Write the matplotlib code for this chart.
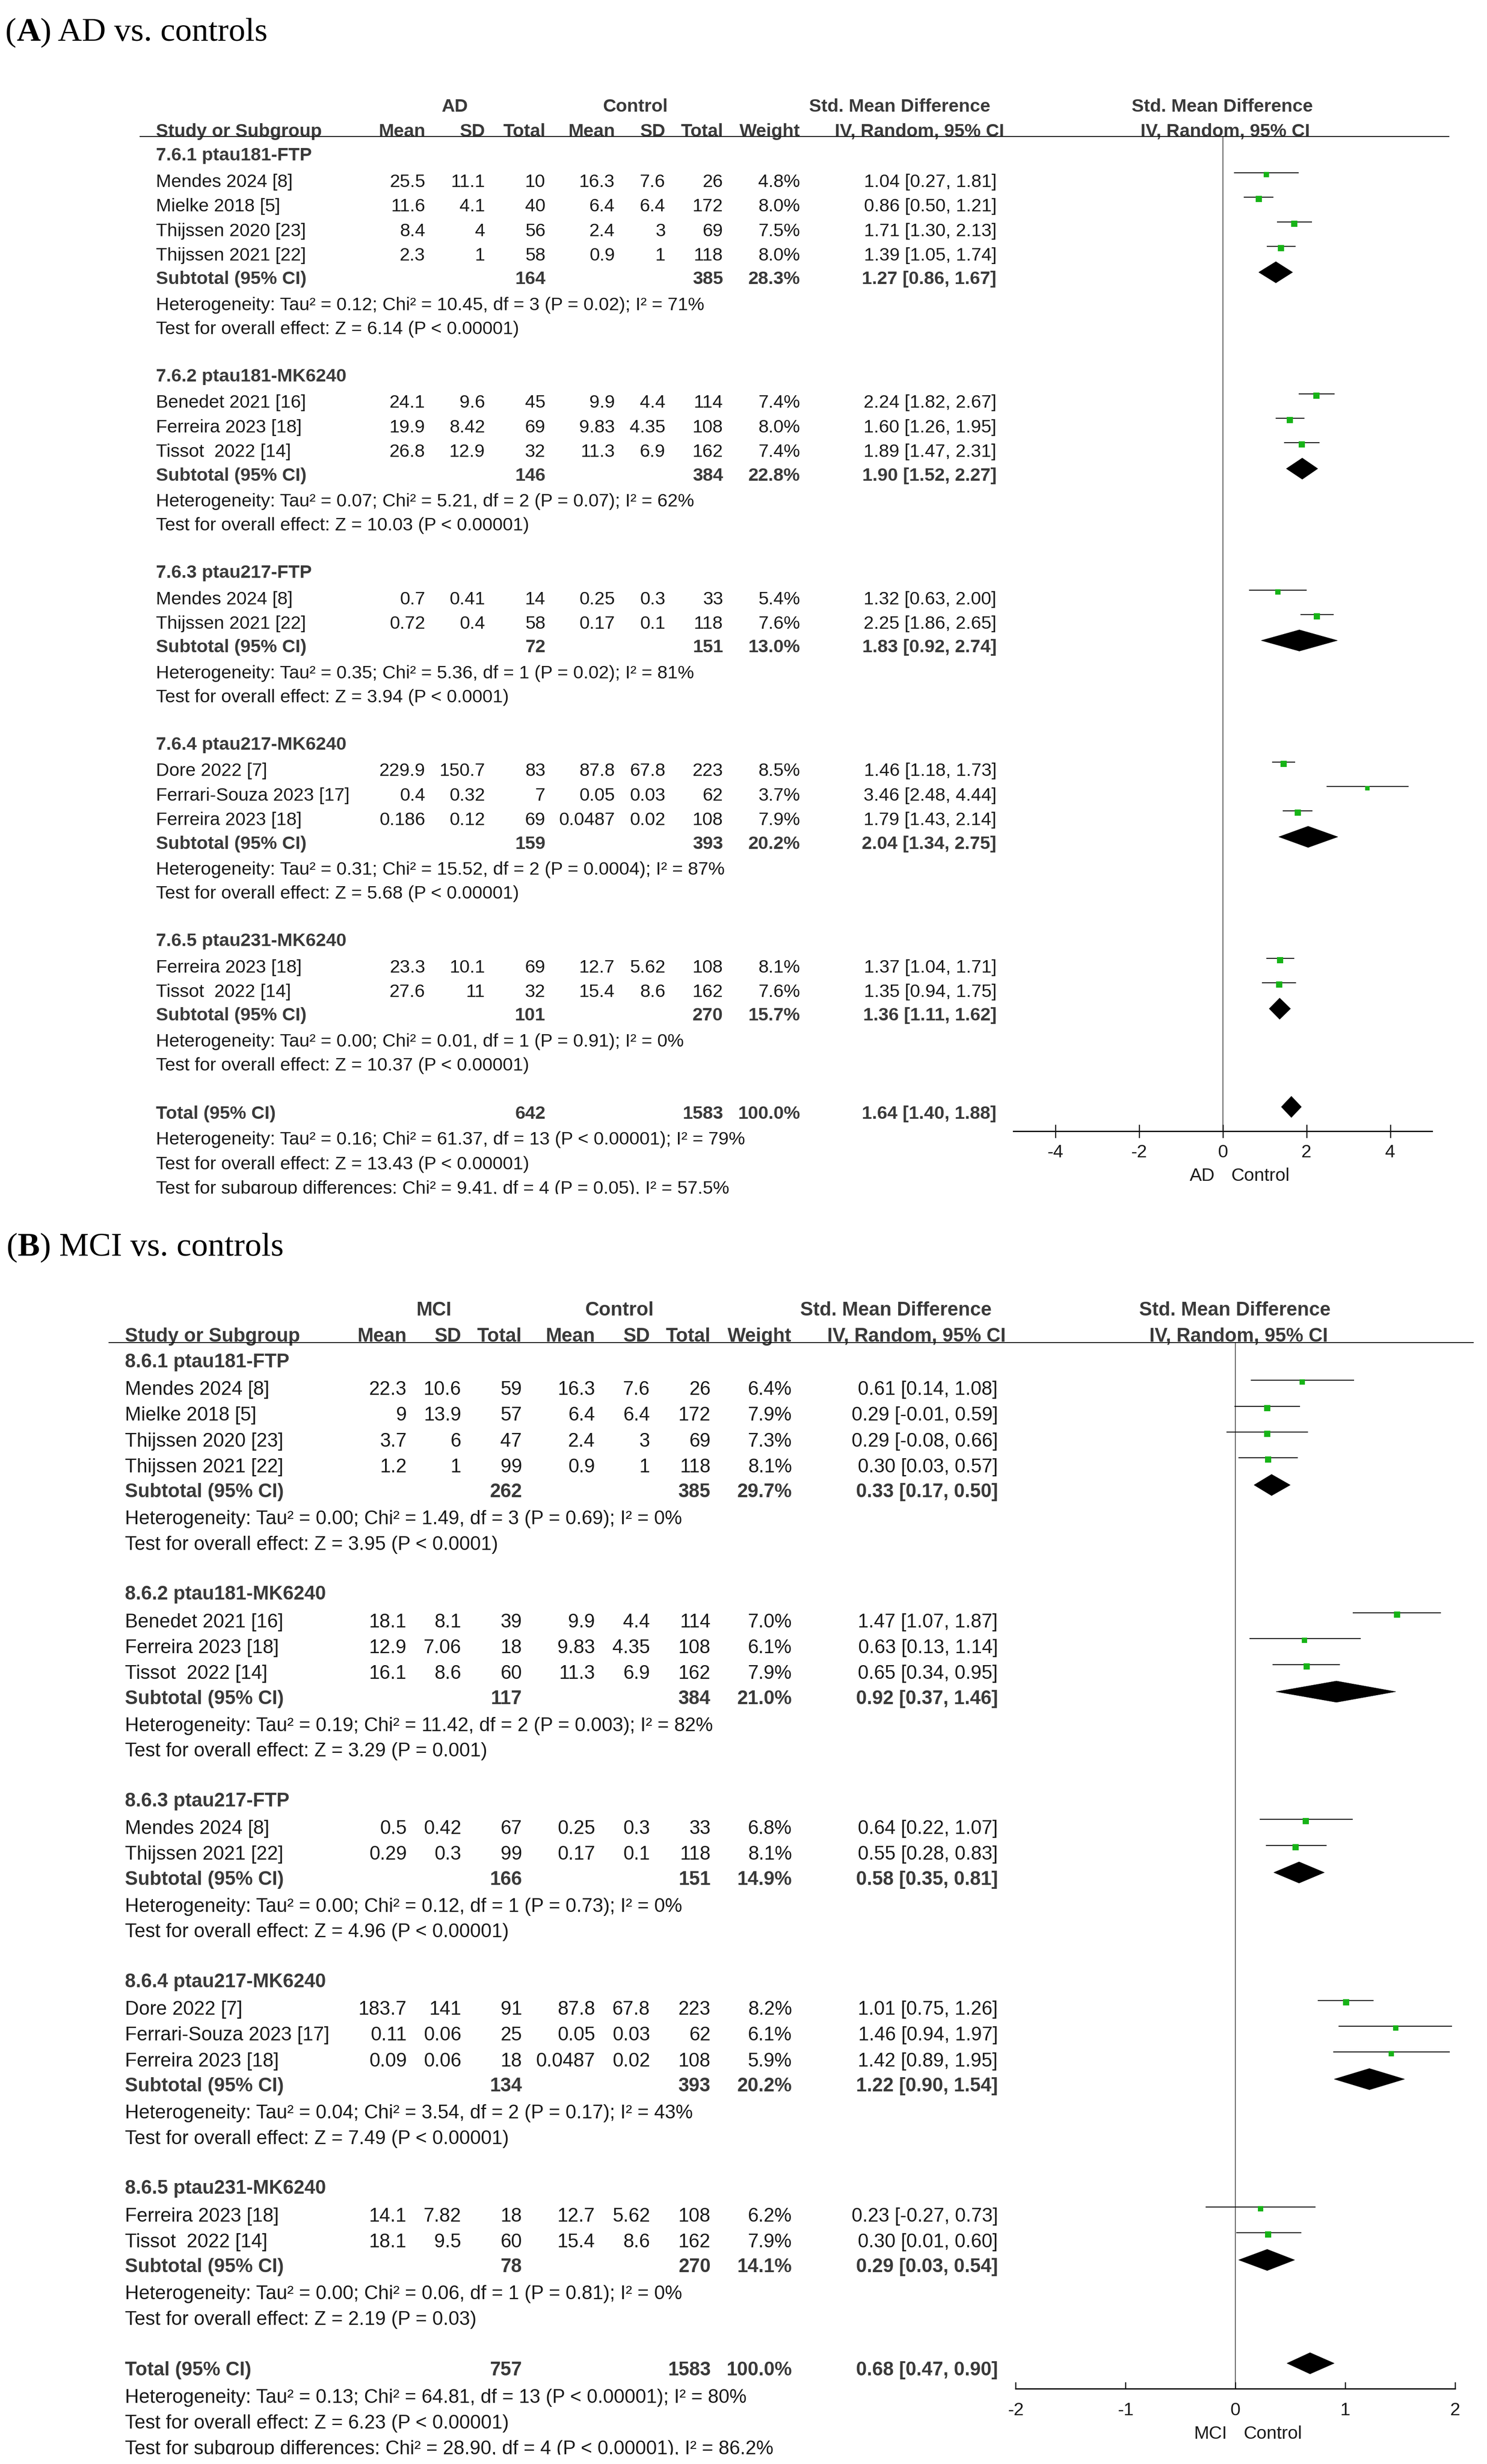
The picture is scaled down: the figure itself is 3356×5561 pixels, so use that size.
import matplotlib
matplotlib.use('Agg')
import matplotlib.pyplot as plt
from matplotlib.patches import Polygon, Rectangle

plt.rcParams['axes.unicode_minus'] = False
plt.rcParams['font.family'] = ['Liberation Sans', 'DejaVu Sans']

# ---------------------------------------------------------------- data (A)
A_title = ('(', 'A', ') AD vs. controls')
A_groups = ['7.6.1 ptau181-FTP', '7.6.2 ptau181-MK6240', '7.6.3 ptau217-FTP',
            '7.6.4 ptau217-MK6240', '7.6.5 ptau231-MK6240']
A_study = ['Mendes 2024 [8]', 'Mielke 2018 [5]', 'Thijssen 2020 [23]', 'Thijssen 2021 [22]',
           'Benedet 2021 [16]', 'Ferreira 2023 [18]', 'Tissot  2022 [14]',
           'Mendes 2024 [8]', 'Thijssen 2021 [22]',
           'Dore 2022 [7]', 'Ferrari-Souza 2023 [17]', 'Ferreira 2023 [18]',
           'Ferreira 2023 [18]', 'Tissot  2022 [14]']
A_group = [0, 0, 0, 0, 1, 1, 1, 2, 2, 3, 3, 3, 4, 4]
A_mean1 = [25.5, 11.6, 8.4, 2.3, 24.1, 19.9, 26.8, 0.7, 0.72, 229.9, 0.4, 0.186, 23.3, 27.6]
A_sd1 = [11.1, 4.1, 4, 1, 9.6, 8.42, 12.9, 0.41, 0.4, 150.7, 0.32, 0.12, 10.1, 11]
A_n1 = [10, 40, 56, 58, 45, 69, 32, 14, 58, 83, 7, 69, 69, 32]
A_mean2 = [16.3, 6.4, 2.4, 0.9, 9.9, 9.83, 11.3, 0.25, 0.17, 87.8, 0.05, 0.0487, 12.7, 15.4]
A_sd2 = [7.6, 6.4, 3, 1, 4.4, 4.35, 6.9, 0.3, 0.1, 67.8, 0.03, 0.02, 5.62, 8.6]
A_n2 = [26, 172, 69, 118, 114, 108, 162, 33, 118, 223, 62, 108, 108, 162]
A_weight = [4.8, 8.0, 7.5, 8.0, 7.4, 8.0, 7.4, 5.4, 7.6, 8.5, 3.7, 7.9, 8.1, 7.6]
A_smd = [1.04, 0.86, 1.71, 1.39, 2.24, 1.60, 1.89, 1.32, 2.25, 1.46, 3.46, 1.79, 1.37, 1.35]
A_lo = [0.27, 0.50, 1.30, 1.05, 1.82, 1.26, 1.47, 0.63, 1.86, 1.18, 2.48, 1.43, 1.04, 0.94]
A_hi = [1.81, 1.21, 2.13, 1.74, 2.67, 1.95, 2.31, 2.00, 2.65, 1.73, 4.44, 2.14, 1.71, 1.75]
A_sub_n1 = [164, 146, 72, 159, 101]
A_sub_n2 = [385, 384, 151, 393, 270]
A_sub_w = [28.3, 22.8, 13.0, 20.2, 15.7]
A_sub_smd = [1.27, 1.90, 1.83, 2.04, 1.36]
A_sub_lo = [0.86, 1.52, 0.92, 1.34, 1.11]
A_sub_hi = [1.67, 2.27, 2.74, 2.75, 1.62]
A_het = ['Tau² = 0.12; Chi² = 10.45, df = 3 (P = 0.02); I² = 71%',
         'Tau² = 0.07; Chi² = 5.21, df = 2 (P = 0.07); I² = 62%',
         'Tau² = 0.35; Chi² = 5.36, df = 1 (P = 0.02); I² = 81%',
         'Tau² = 0.31; Chi² = 15.52, df = 2 (P = 0.0004); I² = 87%',
         'Tau² = 0.00; Chi² = 0.01, df = 1 (P = 0.91); I² = 0%']
A_z = ['Z = 6.14 (P < 0.00001)', 'Z = 10.03 (P < 0.00001)', 'Z = 3.94 (P < 0.0001)',
       'Z = 5.68 (P < 0.00001)', 'Z = 10.37 (P < 0.00001)']
A_tot = [642, 1583, 100.0, 1.64, 1.40, 1.88]
A_tot_het = 'Tau² = 0.16; Chi² = 61.37, df = 13 (P < 0.00001); I² = 79%'
A_tot_z = 'Z = 13.43 (P < 0.00001)'
A_subdiff = 'Chi² = 9.41, df = 4 (P = 0.05), I² = 57.5%'
A_ticks = [-4, -2, 0, 2, 4]
A_ticklabels = ['-4', '-2', '0', '2', '4']
A_xlim = (-5, 5)
A_labels = ('AD', 'Control')
A_grp_names = ('AD', 'Control')

# ---------------------------------------------------------------- data (B)
B_title = ('(', 'B', ') MCI vs. controls')
B_groups = ['8.6.1 ptau181-FTP', '8.6.2 ptau181-MK6240', '8.6.3 ptau217-FTP',
            '8.6.4 ptau217-MK6240', '8.6.5 ptau231-MK6240']
B_study = ['Mendes 2024 [8]', 'Mielke 2018 [5]', 'Thijssen 2020 [23]', 'Thijssen 2021 [22]',
           'Benedet 2021 [16]', 'Ferreira 2023 [18]', 'Tissot  2022 [14]',
           'Mendes 2024 [8]', 'Thijssen 2021 [22]',
           'Dore 2022 [7]', 'Ferrari-Souza 2023 [17]', 'Ferreira 2023 [18]',
           'Ferreira 2023 [18]', 'Tissot  2022 [14]']
B_group = [0, 0, 0, 0, 1, 1, 1, 2, 2, 3, 3, 3, 4, 4]
B_mean1 = [22.3, 9, 3.7, 1.2, 18.1, 12.9, 16.1, 0.5, 0.29, 183.7, 0.11, 0.09, 14.1, 18.1]
B_sd1 = [10.6, 13.9, 6, 1, 8.1, 7.06, 8.6, 0.42, 0.3, 141, 0.06, 0.06, 7.82, 9.5]
B_n1 = [59, 57, 47, 99, 39, 18, 60, 67, 99, 91, 25, 18, 18, 60]
B_mean2 = [16.3, 6.4, 2.4, 0.9, 9.9, 9.83, 11.3, 0.25, 0.17, 87.8, 0.05, 0.0487, 12.7, 15.4]
B_sd2 = [7.6, 6.4, 3, 1, 4.4, 4.35, 6.9, 0.3, 0.1, 67.8, 0.03, 0.02, 5.62, 8.6]
B_n2 = [26, 172, 69, 118, 114, 108, 162, 33, 118, 223, 62, 108, 108, 162]
B_weight = [6.4, 7.9, 7.3, 8.1, 7.0, 6.1, 7.9, 6.8, 8.1, 8.2, 6.1, 5.9, 6.2, 7.9]
B_smd = [0.61, 0.29, 0.29, 0.30, 1.47, 0.63, 0.65, 0.64, 0.55, 1.01, 1.46, 1.42, 0.23, 0.30]
B_lo = [0.14, -0.01, -0.08, 0.03, 1.07, 0.13, 0.34, 0.22, 0.28, 0.75, 0.94, 0.89, -0.27, 0.01]
B_hi = [1.08, 0.59, 0.66, 0.57, 1.87, 1.14, 0.95, 1.07, 0.83, 1.26, 1.97, 1.95, 0.73, 0.60]
B_sub_n1 = [262, 117, 166, 134, 78]
B_sub_n2 = [385, 384, 151, 393, 270]
B_sub_w = [29.7, 21.0, 14.9, 20.2, 14.1]
B_sub_smd = [0.33, 0.92, 0.58, 1.22, 0.29]
B_sub_lo = [0.17, 0.37, 0.35, 0.90, 0.03]
B_sub_hi = [0.50, 1.46, 0.81, 1.54, 0.54]
B_het = ['Tau² = 0.00; Chi² = 1.49, df = 3 (P = 0.69); I² = 0%',
         'Tau² = 0.19; Chi² = 11.42, df = 2 (P = 0.003); I² = 82%',
         'Tau² = 0.00; Chi² = 0.12, df = 1 (P = 0.73); I² = 0%',
         'Tau² = 0.04; Chi² = 3.54, df = 2 (P = 0.17); I² = 43%',
         'Tau² = 0.00; Chi² = 0.06, df = 1 (P = 0.81); I² = 0%']
B_z = ['Z = 3.95 (P < 0.0001)', 'Z = 3.29 (P = 0.001)', 'Z = 4.96 (P < 0.00001)',
       'Z = 7.49 (P < 0.00001)', 'Z = 2.19 (P = 0.03)']
B_tot = [757, 1583, 100.0, 0.68, 0.47, 0.90]
B_tot_het = 'Tau² = 0.13; Chi² = 64.81, df = 13 (P < 0.00001); I² = 80%'
B_tot_z = 'Z = 6.23 (P < 0.00001)'
B_subdiff = 'Chi² = 28.90, df = 4 (P < 0.00001), I² = 86.2%'
B_ticks = [-2, -1, 0, 1, 2]
B_ticklabels = ['-2', '-1', '0', '1', '2']
B_xlim = (-2, 2)
B_labels = ('MCI', 'Control')
B_grp_names = ('MCI', 'Control')

A = dict(title=A_title, groups=A_groups, study=A_study, group=A_group, m1=A_mean1, s1=A_sd1,
         n1=A_n1, m2=A_mean2, s2=A_sd2, n2=A_n2, w=A_weight, smd=A_smd, lo=A_lo, hi=A_hi,
         sn1=A_sub_n1, sn2=A_sub_n2, sw=A_sub_w, ssmd=A_sub_smd, slo=A_sub_lo, shi=A_sub_hi,
         het=A_het, z=A_z, tot=A_tot, thet=A_tot_het, tz=A_tot_z, sdiff=A_subdiff,
         ticks=A_ticks, ticklabels=A_ticklabels, xlim=A_xlim, labels=A_labels, grp=A_grp_names)
B = dict(title=B_title, groups=B_groups, study=B_study, group=B_group, m1=B_mean1, s1=B_sd1,
         n1=B_n1, m2=B_mean2, s2=B_sd2, n2=B_n2, w=B_weight, smd=B_smd, lo=B_lo, hi=B_hi,
         sn1=B_sub_n1, sn2=B_sub_n2, sw=B_sub_w, ssmd=B_sub_smd, slo=B_sub_lo, shi=B_sub_hi,
         het=B_het, z=B_z, tot=B_tot, thet=B_tot_het, tz=B_tot_z, sdiff=B_subdiff,
         ticks=B_ticks, ticklabels=B_ticklabels, xlim=B_xlim, labels=B_labels, grp=B_grp_names)

# ---------------------------------------------------------------- layout (pixels)
W, H = 3356, 5561
LA = dict(title_x=12, title_base=92, h1=237, h2=293, line_y=308, line_x0=315, line_x1=3271,
          base=349.5, step=55.4, fs=29.8, xs=352,
          cols=[960, 1095, 1231, 1388, 1502, 1632, 1806, 2249],
          h1c=[1027, 1434, 2031, 2758], ivc=[2075, 2765],
          fx0=2287, fx1=3232, axis_y=2553, tickdir='inout', ticklen=30, pad=10.0,
          lab_y=2650, lab_l=2742, lab_r=2779, clip_y=2695, tfs=29.5)
LB = dict(title_x=15, title_base=2834, h1=2953, h2=3012, line_y=3030, line_x0=245, line_x1=3326,
          base=3072, step=58.3, fs=31.4, xs=282,
          cols=[918, 1041, 1178, 1343, 1467, 1604, 1787, 2252],
          h1c=[979, 1398, 2022, 2787], ivc=[2068, 2795],
          fx0=2292, fx1=3284, axis_y=5391, tickdir='in', ticklen=15, pad=21.6,
          lab_y=5489, lab_l=2770, lab_r=2807, clip_y=5540, tfs=29.5)

REG = '#1a1a1a'
BOLD = '#3a3a3a'
GREEN = '#17b317'

fig = plt.figure(figsize=(W / 100, H / 100), dpi=100)
fig.patch.set_facecolor('white')
ax_t = fig.add_axes([0, 0, 1, 1], zorder=5)
ax_t.set_xlim(0, W)
ax_t.set_ylim(H, 0)
ax_t.axis('off')
ax_t.patch.set_visible(False)
renderer = fig.canvas.get_renderer()


def fmt(v):
    return '{:g}'.format(v)


def ci(e, l, h):
    return '{:.2f} [{:.2f}, {:.2f}]'.format(e, l, h)


def draw_panel(D, L):
    fs = L['fs']
    cap = 0.716 * fs * 100 / 72

    def txt(x, y, s, ha='left', bold=False):
        ax_t.text(x, y + cap / 2, s, ha=ha, va='baseline', fontsize=fs,
                  fontweight='bold' if bold else 'normal', color=BOLD if bold else REG,
                  zorder=3)

    def ry(i):
        return L['base'] + i * L['step']

    # title with bold letter
    x = L['title_x']
    for k, part in enumerate(D['title']):
        t = ax_t.text(x, L['title_base'], part, ha='left', va='baseline', fontsize=54,
                      family=['Liberation Serif', 'DejaVu Serif'],
                      fontweight='bold' if k == 1 else 'normal', color='black')
        x += t.get_window_extent(renderer).width

    # header
    c = L['cols']
    txt(L['h1c'][0], L['h1'], D['grp'][0], 'center', True)
    txt(L['h1c'][1], L['h1'], D['grp'][1], 'center', True)
    txt(L['h1c'][2], L['h1'], 'Std. Mean Difference', 'center', True)
    txt(L['h1c'][3], L['h1'], 'Std. Mean Difference', 'center', True)
    txt(L['xs'], L['h2'], 'Study or Subgroup', 'left', True)
    for xx, s in zip(c[:7], ['Mean', 'SD', 'Total', 'Mean', 'SD', 'Total', 'Weight']):
        txt(xx, L['h2'], s, 'right', True)
    txt(L['ivc'][0], L['h2'], 'IV, Random, 95% CI', 'center', True)
    txt(L['ivc'][1], L['h2'], 'IV, Random, 95% CI', 'center', True)
    ax_t.plot([L['line_x0'], L['line_x1']], [L['line_y'], L['line_y']], color='#111111',
              lw=1.5, solid_capstyle='butt', zorder=4)

    # forest axes
    ax = fig.add_axes([L['fx0'] / W, 1 - L['axis_y'] / H, (L['fx1'] - L['fx0']) / W,
                       (L['axis_y'] - L['line_y']) / H], zorder=1)
    ax.set_xlim(*D['xlim'])
    ax.set_ylim((L['axis_y'] - L['base']) / L['step'], (L['line_y'] - L['base']) / L['step'])
    for sp in ('top', 'left', 'right'):
        ax.spines[sp].set_visible(False)
    ax.spines['bottom'].set_linewidth(2.2)
    ax.spines['bottom'].set_color('#111111')
    ax.set_yticks([])
    ax.set_xticks(D['ticks'])
    ax.set_xticklabels(D['ticklabels'])
    ax.tick_params(axis='x', direction=L['tickdir'], length=L['ticklen'] * 0.72, width=1.8,
                   color='#111111', labelsize=L['tfs'], labelcolor=REG, pad=L['pad'])
    ax.patch.set_visible(False)
    ax.axvline(0, color='#555555', lw=1.4, zorder=1)
    off_line = -15 / L['step']
    off_sq = -11 / L['step']
    off_dia = -12 / L['step']
    hh = 24 / L['step']

    def diamond(e, l, h, yi):
        yc = yi + off_dia
        ax.add_patch(Polygon([(l, yc), (e, yc - hh), (h, yc), (e, yc + hh)], closed=True,
                             facecolor='black', edgecolor='black', lw=0.5, zorder=3))

    # rows
    idx = 0
    for g, gname in enumerate(D['groups']):
        txt(L['xs'], ry(idx) - 2, gname, 'left', True)
        idx += 1
        for s in [k for k, gg in enumerate(D['group']) if gg == g]:
            y = ry(idx) + 2
            txt(L['xs'], y, D['study'][s])
            vals = [fmt(D['m1'][s]), fmt(D['s1'][s]), str(D['n1'][s]), fmt(D['m2'][s]),
                    fmt(D['s2'][s]), str(D['n2'][s]), '{:.1f}%'.format(D['w'][s]),
                    ci(D['smd'][s], D['lo'][s], D['hi'][s])]
            for xx, v in zip(c, vals):
                txt(xx, y, v, 'right')
            ax.plot([D['lo'][s], D['hi'][s]], [idx + off_line] * 2, color='#111111',
                    lw=1.6, solid_capstyle='butt', zorder=2)
            ax.plot([D['smd'][s]], [idx + off_sq], marker='s', linestyle='none',
                    markersize=5.1 * D['w'][s] ** 0.5 * 0.72, color=GREEN,
                    markeredgewidth=0, zorder=4)
            idx += 1
        y = ry(idx)
        txt(L['xs'], y, 'Subtotal (95% CI)', 'left', True)
        txt(c[2], y, str(D['sn1'][g]), 'right', True)
        txt(c[5], y, str(D['sn2'][g]), 'right', True)
        txt(c[6], y, '{:.1f}%'.format(D['sw'][g]), 'right', True)
        txt(c[7], y, ci(D['ssmd'][g], D['slo'][g], D['shi'][g]), 'right', True)
        diamond(D['ssmd'][g], D['slo'][g], D['shi'][g], idx)
        idx += 1
        txt(L['xs'], ry(idx) + 3, 'Heterogeneity: ' + D['het'][g])
        idx += 1
        txt(L['xs'], ry(idx) + 2, 'Test for overall effect: ' + D['z'][g])
        idx += 2
    # total
    T = D['tot']
    y = ry(idx)
    txt(L['xs'], y, 'Total (95% CI)', 'left', True)
    txt(c[2], y, str(T[0]), 'right', True)
    txt(c[5], y, str(T[1]), 'right', True)
    txt(c[6], y, '{:.1f}%'.format(T[2]), 'right', True)
    txt(c[7], y, ci(T[3], T[4], T[5]), 'right', True)
    diamond(T[3], T[4], T[5], idx)
    txt(L['xs'], ry(idx + 1) + 3, 'Heterogeneity: ' + D['thet'])
    txt(L['xs'], ry(idx + 2) + 3, 'Test for overall effect: ' + D['tz'])
    txt(L['xs'], ry(idx + 3) + 3, 'Test for subgroup differences: ' + D['sdiff'])
    # clip the last line like the source image
    ax_t.add_patch(Rectangle((0, L['clip_y']), W, 70, facecolor='white', edgecolor='none',
                             zorder=20))
    # axis labels
    ax_t.text(L['lab_l'], L['lab_y'] + 0.716 * L['tfs'] * 100 / 72 / 2, D['labels'][0],
              ha='right', va='baseline', fontsize=L['tfs'], color=REG)
    ax_t.text(L['lab_r'], L['lab_y'] + 0.716 * L['tfs'] * 100 / 72 / 2, D['labels'][1],
              ha='left', va='baseline', fontsize=L['tfs'], color=REG)


draw_panel(A, LA)
draw_panel(B, LB)

fig.savefig('out.png', dpi=100, facecolor='white')
